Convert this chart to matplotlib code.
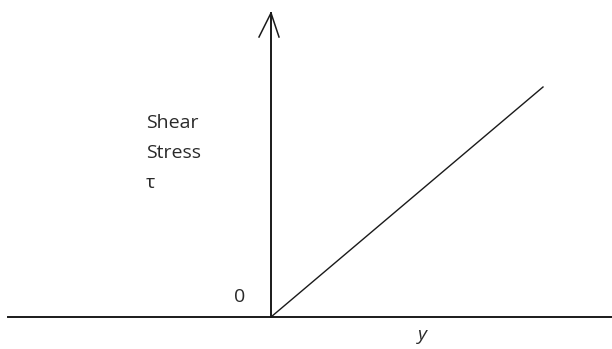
import matplotlib
matplotlib.use("Agg")
import matplotlib.pyplot as plt

# shear stress vs velocity gradient (sketch units, origin at axis crossing)
grad = [0, 272]
stress = [0, 230]

x_axis = [-263, 341]
y_axis = [0, 304]

ylabel_lines = ["Shear", "Stress", "τ"]
origin_label = "0"
xlabel = "y"

plt.rcParams["font.family"] = ["Open Sans", "DejaVu Sans"]

fig = plt.figure(figsize=(6.12, 3.49), dpi=100)
ax = fig.add_axes([0, 0, 1, 1])
ax.set_xlim(-271, 341)
ax.set_ylim(-32, 317)
ax.axis("off")

# axes
ax.plot(x_axis, [0, 0], color="#1a1a1a", lw=1.4)
ax.plot([0, 0], y_axis, color="#1a1a1a", lw=1.4)
# open arrow head on vertical axis
ax.plot([-12, 0, 8], [y_axis[1] - 24, y_axis[1], y_axis[1] - 24], color="#1a1a1a", lw=1.1)

# relation line
ax.plot(grad, stress, color="#1a1a1a", lw=1.0)

fs = 14
for i, s in enumerate(ylabel_lines):
    ax.text(-125, 194 - 30 * i, s, fontsize=fs, ha="left", va="center", color="#2a2a2a")
ax.text(-31, 20, origin_label, fontsize=fs, ha="center", va="center", color="#2a2a2a")
ax.text(151, -18, xlabel, fontsize=fs, style="italic", ha="center", va="center", color="#2a2a2a")

fig.savefig("out.png", dpi=100)
